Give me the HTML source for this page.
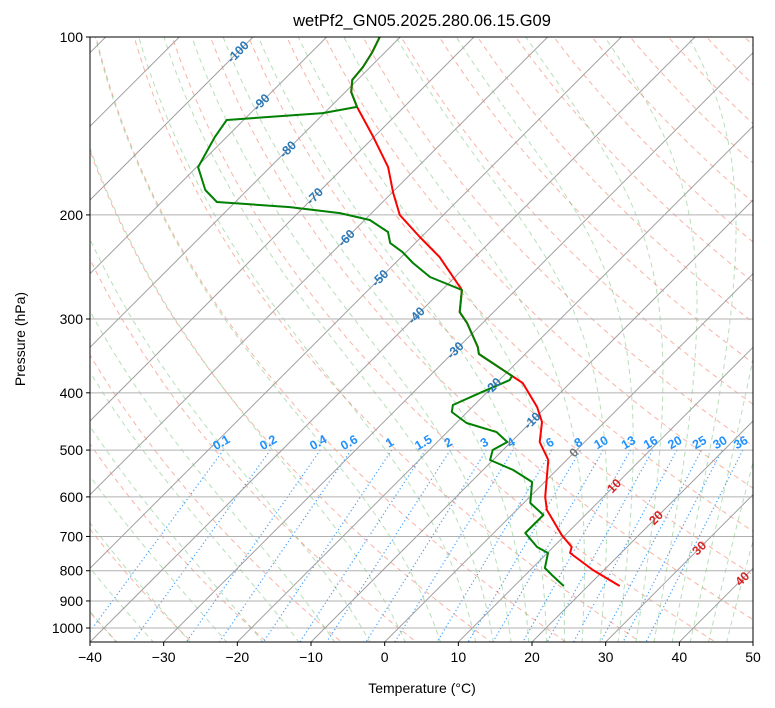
<!DOCTYPE html>
<html><head><meta charset="utf-8"><style>
html,body{margin:0;padding:0;background:#fff;}
svg{display:block;font-family:"Liberation Sans","DejaVu Sans",sans-serif;}
</style></head><body>
<svg id="chart" width="775" height="708" viewBox="0 0 775 708" xmlns="http://www.w3.org/2000/svg">
<defs><clipPath id="plotclip"><rect x="90" y="37" width="663" height="605"/></clipPath></defs>
<rect x="0" y="0" width="775" height="708" fill="#fff"/>
<text x="422" y="26" text-anchor="middle" font-size="16.5" fill="#000">wetPf2_GN05.2025.280.06.15.G09</text>
<g id="bg" clip-path="url(#plotclip)"></g>
<g id="series" clip-path="url(#plotclip)"></g>
<g id="labels"></g>
<rect x="90" y="37" width="663" height="605" fill="none" stroke="#000" stroke-width="1"/>
<g id="axes"></g>
<text x="422" y="693" text-anchor="middle" font-size="14">Temperature (°C)</text>
<text transform="translate(25,339) rotate(-90)" text-anchor="middle" font-size="14">Pressure (hPa)</text>
</svg>
<script>
// ---- data ----
const tempPressure = [100,106.4,112.4,118.2,123.9,131.3,147.6,166.0,183.6,200.1,218.0,235.7,268.0,292.1,304.8,334.6,343.9,374.7,385.1,422.8,448.2,484.5,519.6,600.2,631.4,696.0,729.4,746.7,797.8,848.9];
const tempValues = [-82.8,-81.7,-81.0,-80.7,-79.2,-76.4,-70.1,-64.0,-59.8,-55.9,-50.2,-44.8,-37.3,-34.6,-32.1,-27.4,-26.3,-18.8,-16.4,-11.2,-8.5,-6.1,-2.5,2.1,4.1,9.5,12.5,13.1,18.5,24.3];
const dewPressure = [100,106.4,112.4,118.2,123.9,131.3,134.5,138.2,147.6,166.0,181.5,190.2,194.0,198.6,204.0,213.8,223.2,231.2,241.2,254.7,268.0,292.1,304.8,334.6,343.9,374.7,380.6,400.4,419.5,431.1,450.0,466.1,484.5,499.8,519.6,540.3,566.2,614.4,643.8,690.7,729.4,746.7,791.5,813.4,848.9];
const dewValues = [-82.8,-81.7,-81.0,-80.7,-79.2,-76.4,-80.2,-92.3,-91.6,-89.8,-85.7,-82.5,-71.9,-64.3,-59.3,-55.2,-53.4,-50.5,-47.6,-43.4,-37.3,-34.6,-32.1,-27.4,-26.3,-18.8,-18.6,-20.9,-22.9,-22.1,-18.6,-13.3,-10.5,-11.4,-10.4,-5.9,-1.7,0.9,4.3,4.3,7.8,10.1,11.7,13.6,16.7];
const xTicks = [-40,-30,-20,-10,0,10,20,30,40,50];
const yTicks = [100,200,300,400,500,600,700,800,900,1000];
const isothermLabels = [-100,-90,-80,-70,-60,-50,-40,-30,-20,-10,0,10,20,30,40];
const isothermLabelP = [106,129,155,186,219,256,296,339,390,446,505,575,651,733,826];
const mixingRatios = [0.1,0.2,0.4,0.6,1,1.5,2,3,4,6,8,10,13,16,20,25,30,36];
const mixingLabels = ["0.1","0.2","0.4","0.6","1","1.5","2","3","4","6","8","10","13","16","20","25","30","36"];

// ---- axes functions ----
const X0=90,X1=753,Y0=37,Y1=642,TMIN=-40,TMAX=50,PX=(X1-X0)/(TMAX-TMIN),DEC=591;
function yP(p){return Y0+DEC*Math.log10(p/100);}
function xT(t,p){const y=yP(p);return X0+(t-TMIN)*PX+(Y1-y);}
const NS="http://www.w3.org/2000/svg";
function mk(tag,attrs,parent){const e=document.createElementNS(NS,tag);for(const k in attrs)e.setAttribute(k,attrs[k]);parent.appendChild(e);return e;}
const bg=document.getElementById('bg'),series=document.getElementById('series'),labels=document.getElementById('labels'),axes=document.getElementById('axes');
function pathFrom(ps,ts){return ps.map((p,i)=>(i?'L':'M')+xT(ts[i],p).toFixed(1)+','+yP(p).toFixed(1)).join('');}
const PBOT=1060,PTOP=98;
function pgrid(step){const a=[];for(let p=PTOP;p<=PBOT;p*=step)a.push(p);a.push(PBOT);return a;}

// dry adiabats
for(let th=-40;th<=200;th+=10){
  const ps=pgrid(1.03),ts=ps.map(p=>(th+273.15)*Math.pow(p/1000,0.2857)-273.15);
  const e=mk('path',{d:pathFrom(ps,ts),fill:'none',stroke:'#f4826a','stroke-opacity':'0.6','stroke-width':'1','stroke-dasharray':'5,4'},bg);
  
  
}
// moist adiabats
function esat(T){return 6.112*Math.exp(17.67*T/(T+243.5));}
function dTdp(p,Tc){const T=Tc+273.15,Rd=287.04,Cp=1005.7,Lv=2.501e6,eps=0.622;const es=esat(Tc),rs=eps*es/(p-es);
  return (1/p)*(Rd*T+Lv*rs)/(Cp+Lv*Lv*rs*eps/(Rd*T*T));}
function moist(t0){
  const up=[],dn=[];let T=t0,p=1000;const dp=5;
  while(p>PTOP){up.push([p,T]);const k1=dTdp(p,T),k2=dTdp(p-dp/2,T-k1*dp/2),k3=dTdp(p-dp/2,T-k2*dp/2),k4=dTdp(p-dp,T-k3*dp);T-=dp*(k1+2*k2+2*k3+k4)/6;p-=dp;}
  up.push([p,T]);T=t0;p=1000;
  while(p<PBOT){T+=dp*dTdp(p,T);p+=dp;dn.push([p,T]);}
  const all=dn.reverse().concat(up);return all;
}
const moistT0=[];for(let t=-50;t<=10;t+=5)moistT0.push(t);for(let t=12.5;t<=45;t+=2.5)moistT0.push(t);
moistT0.forEach(t0=>{const pts=moist(t0);
  const e=mk('path',{d:pathFrom(pts.map(a=>a[0]),pts.map(a=>a[1])),fill:'none',stroke:'#4caf50','stroke-opacity':'0.4','stroke-width':'1','stroke-dasharray':'5,4'},bg);
  
  
});
// mixing ratio lines
function tdFromW(w,p){const e=w*p/(622+w),l=Math.log(e/6.112);return 243.5*l/(17.67-l);}
mixingRatios.forEach((w,i)=>{
  const ps=[500,PBOT],ts=ps.map(p=>tdFromW(w,p));
  const e=mk('path',{d:pathFrom(ps,ts),fill:'none',stroke:'#1e90ff','stroke-opacity':'0.85','stroke-width':'1.2','stroke-dasharray':'1.2,2.6'},bg);
  
  
  const x=xT(tdFromW(w,500),500),y=yP(500)-4;
  const t=mk('text',{x:x,y:y,'font-size':'12.5','font-weight':'bold',fill:'#1e90ff','text-anchor':'middle',transform:`rotate(-30 ${x} ${y})`},labels);
  t.textContent=mixingLabels[i];
  
  
});
// horizontal grid
yTicks.forEach(p=>{const e=mk('line',{x1:X0,x2:X1,y1:yP(p),y2:yP(p),stroke:'#b0b0b0','stroke-width':'1'},bg);
  
  });
// isotherms
for(let t=-160;t<=50;t+=10){const e=mk('line',{x1:xT(t,PBOT),y1:yP(PBOT),x2:xT(t,PTOP),y2:yP(PTOP),stroke:'#a0a0a0','stroke-width':'1'},bg);
  
  }
// isotherm labels
isothermLabels.forEach((t,i)=>{const p=isothermLabelP[i],x=xT(t,p),y=yP(p);
  const col=t<0?'#2a78b8':(t===0?'#777':'#d62728');
  const e=mk('text',{x:x,y:y+4,'font-size':'12.5','font-weight':'bold',fill:col,'text-anchor':'middle',transform:`rotate(-45 ${x} ${y})`},labels);
  e.textContent=String(t);
  
  });
// series
const tl=mk('path',{d:pathFrom(tempPressure,tempValues),fill:'none',stroke:'#ff0000','stroke-width':'2','stroke-linejoin':'round'},series);


const dl=mk('path',{d:pathFrom(dewPressure,dewValues),fill:'none',stroke:'#008000','stroke-width':'2','stroke-linejoin':'round'},series);


// ticks
xTicks.forEach(t=>{const x=X0+(t-TMIN)*PX;
  const l=mk('line',{x1:x,x2:x,y1:Y1,y2:Y1+4,stroke:'#000'},axes);
  
  
  const tx=mk('text',{x:x,y:Y1+20,'font-size':'14','text-anchor':'middle'},axes);
  tx.textContent=(t<0?'\u2212'+(-t):String(t));
  
  });
yTicks.forEach(p=>{const y=yP(p);
  const l=mk('line',{x1:X0-4,x2:X0,y1:y,y2:y,stroke:'#000'},axes);
  
  
  const tx=mk('text',{x:X0-7,y:y+5,'font-size':'14','text-anchor':'end'},axes);
  tx.textContent=String(p);
  
  });
</script>
</body></html>
